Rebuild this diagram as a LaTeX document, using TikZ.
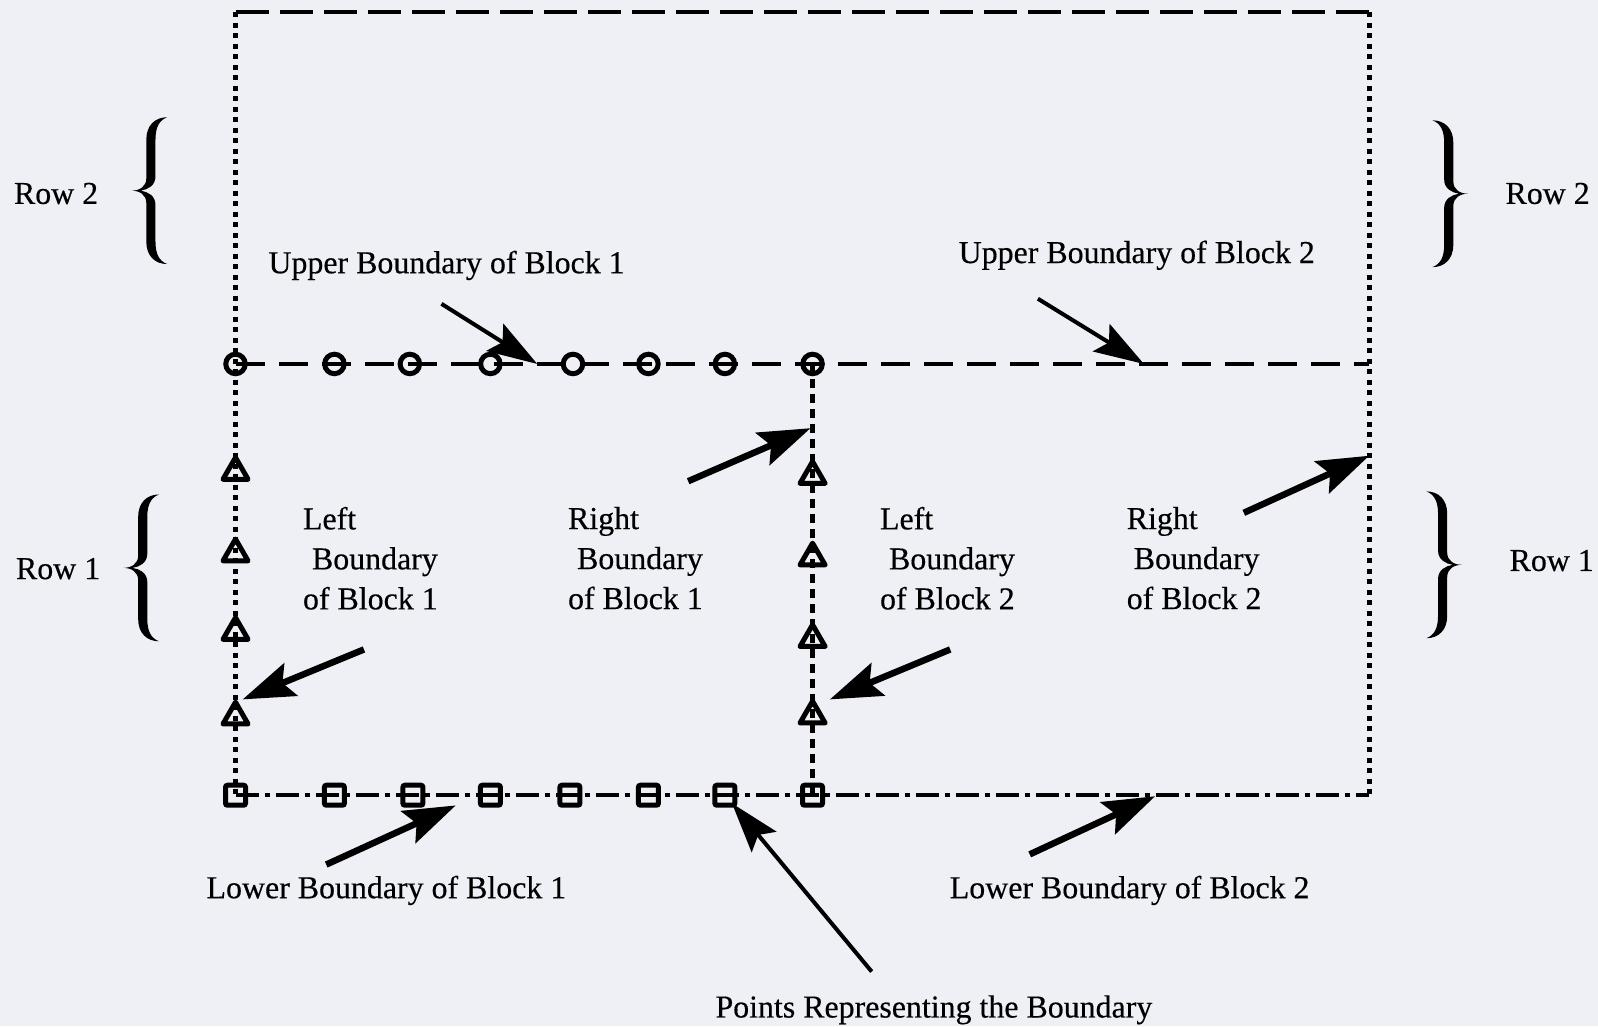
\documentclass[tikz,border=0pt]{standalone}
\usepackage{fontspec}
\setmainfont{Liberation Serif}[FakeBold=0.4]
\usetikzlibrary{arrows.meta,shapes.geometric}
\definecolor{paper}{RGB}{239,240,246}
\begin{document}
\begin{tikzpicture}[x=1.0195pt,y=-1.0195pt,
  lbl/.style={font=\fontsize{31.9}{40}\selectfont, inner sep=0pt, text=black},
  blk/.style={lbl, align=left, anchor=north west},
  boundtop/.style={line width=4.5pt, dash pattern=on 33pt off 11pt},
  dotline/.style={line width=5pt, dash pattern=on 5pt off 5.5pt},
  dashmid/.style={line width=4.5pt, dash pattern=on 29pt off 14pt},
  dashvert/.style={line width=5pt, dash pattern=on 9pt off 6pt},
  dashdot/.style={line width=4.5pt, dash pattern=on 23pt off 6pt on 5pt off 6pt},
  circpt/.style={circle, draw, line width=5pt, minimum size=19.5pt, inner sep=0pt},
  tript/.style={regular polygon, regular polygon sides=3, draw, line width=5pt, line join=round, minimum size=29pt, inner sep=0pt},
  sqpt/.style={rectangle, draw, line width=5pt, minimum size=20pt, inner sep=0pt, rounded corners=2pt},
  bigarrow/.style={-{Stealth[length=52pt,width=35pt,inset=9pt]}, line width=6.5pt},
  thinarrow/.style={-{Stealth[length=50pt,width=32pt,inset=9pt]}, line width=4pt},
  bracepic/.pic={
    \fill (17,-72) .. controls (5,-72) and (-3.5,-64) .. (-3.5,-50)
      -- (-3.5,-12) .. controls (-3.5,-4) and (-10,0) .. (-18,0)
      .. controls (-10,0) and (-3.5,4) .. (-3.5,12)
      -- (-3.5,50) .. controls (-3.5,64) and (5,72) .. (17,72)
      .. controls (9,69) and (5.5,62) .. (5.5,50)
      -- (5.5,14) .. controls (5.5,5) and (-2,1) .. (-9,0)
      .. controls (-2,-1) and (5.5,-5) .. (5.5,-14)
      -- (5.5,-50) .. controls (5.5,-62) and (9,-69) .. (17,-72) -- cycle;
  }
]
\fill[paper] (0,0) rectangle (1567.4,1006.4);
\useasboundingbox (0,0) rectangle (1567.4,1006.4);

% corners
\coordinate (TL) at (231,12);
\coordinate (TR) at (1343,12);
\coordinate (ML) at (231,357);
\coordinate (MM) at (797,357);
\coordinate (MR) at (1343,357);
\coordinate (BL) at (231,780);
\coordinate (BM) at (797,780);
\coordinate (BR) at (1343,780);

% boundaries
\draw[boundtop] (TL) -- (TR);
\draw[dotline] (TL) -- (BL);
\draw[dotline] (TR) -- (BR);
\draw[dashmid] (ML) -- (MR);
\draw[dashvert] (MM) -- (BM);
\draw[dashdot] (BL) -- (BR);

% points
\foreach \x [count=\i] in {231,328,402,481,562,636,711,797}
  \node[circpt] (c\i) at (\x,357) {};
\foreach \y [count=\i] in {463,543,620,703}
  \node[tript] (tl\i) at (231,\y) {};
\foreach \y [count=\i] in {467,547,627,702}
  \node[tript] (tm\i) at (797,\y) {};
\foreach \x [count=\i] in {231,328,405,481,559,636,711,797}
  \node[sqpt] (s\i) at (\x,780) {};

% braces
\pic (br2l) at (147,187) {bracepic};
\pic (br1l) at (139,557) {bracepic};
\pic[xscale=-1] (br2r) at (1422,190) {bracepic};
\pic[xscale=-1] (br1r) at (1416,554) {bracepic};

% labels
\node[lbl, anchor=base] (row2l) at (55,200) {Row 2};
\node[lbl, anchor=base] (row1l) at (57,568) {Row 1};
\node[lbl, anchor=base] (row2r) at (1518,200) {Row 2};
\node[lbl, anchor=base] (row1r) at (1522,560) {Row 1};
\node[lbl, anchor=base] (ub1) at (438,268) {Upper Boundary of Block 1};
\node[lbl, anchor=base] (ub2) at (1115,258) {Upper Boundary of Block 2};
\node[lbl, anchor=base] (lb1) at (379,881) {Lower Boundary of Block 1};
\node[lbl, anchor=base] (lb2) at (1108,881) {Lower Boundary of Block 2};
\node[lbl, anchor=base] (pts) at (916,998) {Points Representing the Boundary};
\node[blk] (lft1) at (297,497) {Left\\\hspace*{9pt}Boundary\\of Block 1};
\node[blk] (rgt1) at (557,497) {Right\\\hspace*{9pt}Boundary\\of Block 1};
\node[blk] (lft2) at (863,497) {Left\\\hspace*{9pt}Boundary\\of Block 2};
\node[blk] (rgt2) at (1105,497) {Right\\\hspace*{7pt}Boundary\\of Block 2};

% arrow ends
\coordinate (a1s) at (433,298);  \coordinate (a1e) at (527,357);
\coordinate (a2s) at (1018,293); \coordinate (a2e) at (1122,357);
\coordinate (a3s) at (675,472);  \coordinate (a3e) at (795,420);
\coordinate (a4s) at (1220,503); \coordinate (a4e) at (1343,447);
\coordinate (a5s) at (357,637);  \coordinate (a5e) at (238,686);
\coordinate (a6s) at (932,637);  \coordinate (a6e) at (814,686);
\coordinate (a7s) at (320,848);  \coordinate (a7e) at (447,790);
\coordinate (a8s) at (1010,838); \coordinate (a8e) at (1133,781);
\coordinate (a9s) at (855,953);  \coordinate (a9e) at (718,788);

\draw[thinarrow] (a1s) -- (a1e);
\draw[thinarrow] (a2s) -- (a2e);
\draw[bigarrow] (a3s) -- (a3e);
\draw[bigarrow] (a4s) -- (a4e);
\draw[bigarrow] (a5s) -- (a5e);
\draw[bigarrow] (a6s) -- (a6e);
\draw[bigarrow] (a7s) -- (a7e);
\draw[bigarrow] (a8s) -- (a8e);
\draw[thinarrow] (a9s) -- (a9e);
\end{tikzpicture}
\end{document}
